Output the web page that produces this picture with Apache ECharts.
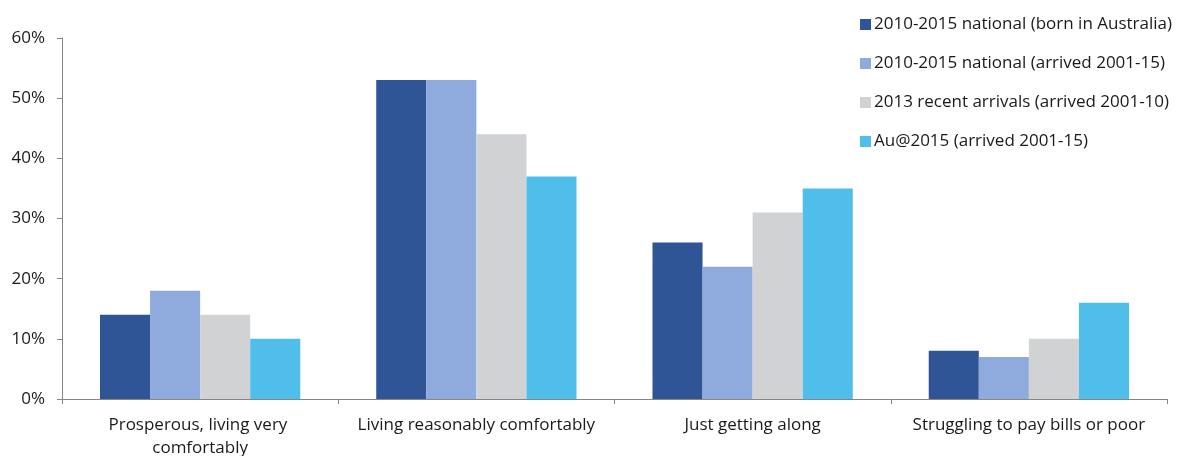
<!DOCTYPE html>
<html>
<head>
<meta charset="utf-8">
<script src="https://cdn.jsdelivr.net/npm/echarts@6/dist/echarts.min.js"></script>
<style>
  html, body { margin: 0; padding: 0; background: #fff; }
  #chart { width: 1187px; height: 456px; }
</style>
</head>
<body>
<div id="chart"></div>
<script>
// Self-assessed financial situation, by group (percent of respondents)
const categories = [
  'Prosperous, living very comfortably',
  'Living reasonably comfortably',
  'Just getting along',
  'Struggling to pay bills or poor'
];
const seriesNames = [
  '2010-2015 national (born in Australia)',
  '2010-2015 national (arrived 2001-15)',
  '2013 recent arrivals (arrived 2001-10)',
  'Au@2015 (arrived 2001-15)'
];
const bornInAustralia = [14, 53, 26, 8];
const nationalArrived = [18, 53, 22, 7];
const recentArrivals = [14, 44, 31, 10];
const au2015 = [10, 37, 35, 16];
const colors = ['#2F5597', '#8FAADC', '#D1D2D4', '#4FBEEB'];

const values = [bornInAustralia, nationalArrived, recentArrivals, au2015];
const fontFamily = '"Open Sans", Lato, sans-serif';

const chart = echarts.init(document.getElementById('chart'), null, { renderer: 'canvas' });
chart.setOption({
  animation: false,
  backgroundColor: '#ffffff',
  textStyle: { fontFamily: fontFamily },
  grid: { left: 62, right: 20, top: 38, bottom: 57, containLabel: false, outerBoundsMode: 'none' },
  legend: {
    orient: 'vertical',
    left: 855,
    top: 11,
    itemWidth: 11,
    itemHeight: 11,
    itemGap: 22,
    icon: 'rect',
    textStyle: { fontSize: 17, color: '#1a1a1a', fontFamily: fontFamily, padding: [0, 0, 0, -2] },
    data: seriesNames
  },
  xAxis: {
    type: 'category',
    data: categories,
    axisLine: { lineStyle: { color: '#868686', width: 1 } },
    axisTick: { show: true, alignWithLabel: false, length: 5, lineStyle: { color: '#868686' } },
    axisLabel: {
      fontSize: 17,
      color: '#1a1a1a',
      margin: 15,
      lineHeight: 23,
      width: 262,
      overflow: 'break',
      interval: 0
    }
  },
  yAxis: {
    type: 'value',
    min: 0,
    max: 60,
    interval: 10,
    axisLine: { show: true, lineStyle: { color: '#868686', width: 1 } },
    axisTick: { show: true, length: 5, lineStyle: { color: '#868686' } },
    splitLine: { show: false },
    axisLabel: {
      fontSize: 17,
      color: '#1a1a1a',
      margin: 17,
      formatter: '{value}%'
    }
  },
  series: seriesNames.map((name, i) => ({
    name: name,
    type: 'bar',
    data: values[i],
    itemStyle: { color: colors[i] },
    barGap: '0%',
    barCategoryGap: '27.5%'
  }))
});
</script>
</body>
</html>
